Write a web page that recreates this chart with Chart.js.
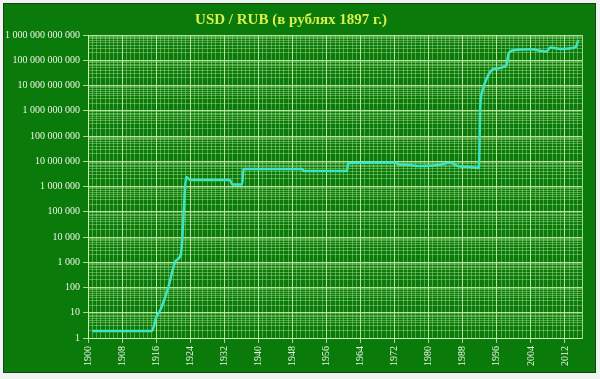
<!DOCTYPE html>
<html>
<head>
<meta charset="utf-8">
<script src="https://cdn.jsdelivr.net/npm/chart.js@4.4.0/dist/chart.umd.min.js"></script>
<style>
    html, body { margin: 0; padding: 0; background: #eef5ee; }
    #panel { position: absolute; left: 3px; top: 3px; width: 593px; height: 370px; box-sizing: border-box; border: 1px solid #1d3b1d; background: #0a7a0a; }
    #wrap { position: absolute; left: 0; top: 0; width: 600px; height: 379px; }
</style>
</head>
<body>
<div id="panel"></div>
<div id="wrap"><canvas id="chart" width="600" height="379"></canvas></div>
<script>
// USD / RUB in 1897 roubles (log scale)
const years = [1901, 1915, 1916, 1917, 1918.8, 1920.7, 1921.8, 1923.1, 1924, 1933.3, 1933.9, 1936.2, 1936.5,
    1950.3, 1950.6, 1960.8, 1961.1, 1972, 1973, 1975, 1978, 1981, 1983, 1985, 1986.8, 1989, 1991.8,
    1992.1, 1992.6, 1993.8, 1995.2, 1998.2, 1998.8, 2000, 2004, 2007.6, 2008.6, 2011, 2014.5, 2015.1]
const rates = [1.9, 1.9, 6.5, 13, 95, 1200, 2000, 2.4e6, 1.8e6, 1.8e6, 1.2e6, 1.2e6, 4.9e6,
    4.9e6, 4.1e6, 4.1e6, 8.5e6, 9e6, 7.5e6, 7.2e6, 6.5e6, 6.8e6, 7.5e6, 9e6, 6.5e6, 6e6, 5.4e6,
    1.3e9, 6e9, 2.2e10, 4.5e10, 6e10, 1.9e11, 2.5e11, 2.7e11, 2.2e11, 3.2e11, 2.8e11, 3.3e11, 6.3e11]

const xTickYears = [1900, 1908, 1916, 1924, 1932, 1940, 1948, 1956, 1964, 1972, 1980, 1988, 1996, 2004, 2012]
const yTickValues = [1, 10, 100, 1e3, 1e4, 1e5, 1e6, 1e7, 1e8, 1e9, 1e10, 1e11, 1e12]

const gridMajor = "rgba(215, 245, 190, 0.75)"
const gridMinor = "rgba(185, 235, 155, 0.4)"
const labelFont = { family: "Liberation Serif", size: 10 }
const labelColor = "#eef6e6"

// minor grid positions: every year, and 1..9 inside each decade
const minorYears = []
for (let y = 1900; y <= 2016; y++) minorYears.push(y)
const minorValues = []
yTickValues.forEach(v => { for (let m = 1; m < 10; m++) if (v * m <= 1e12) minorValues.push(v * m) })

const spaced = v => String(Math.round(v)).replace(/\B(?=(\d{3})+(?!\d))/g, " ")

new Chart(document.getElementById("chart").getContext("2d"), {
    type: "line",
    data: {
        datasets: [{
            data: years.map((x, i) => ({ x: x, y: rates[i] })),
            xAxisID: "x",
            yAxisID: "y",
            borderColor: "#3fe4c4",
            borderWidth: 2.5,
            pointRadius: 0,
            cubicInterpolationMode: "monotone",
            fill: false,
        }],
    },
    options: {
        responsive: false,
        animation: false,
        layout: { padding: { top: 4, right: 18, bottom: 0, left: 0 } },
        plugins: {
            legend: { display: false },
            tooltip: { enabled: false },
            title: {
                display: true,
                text: "USD / RUB (в рублях 1897 г.)",
                color: "#d8f04c",
                font: { family: "Liberation Serif", size: 15, weight: "bold" },
                padding: { top: 7, bottom: 6 },
            },
        },
        scales: {
            xm: {
                type: "linear", position: "bottom", min: 1900, max: 2016,
                afterBuildTicks: s => { s.ticks = minorYears.map(v => ({ value: v })) },
                ticks: { display: false },
                grid: { color: c => (c.tick && c.tick.value === 2016 ? gridMajor : gridMinor), drawTicks: false },
                border: { display: false },
                afterFit: s => { s.height = 0 },
            },
            ym: {
                type: "logarithmic", position: "left", min: 1, max: 1e12,
                afterBuildTicks: s => { s.ticks = minorValues.map(v => ({ value: v })) },
                ticks: { display: false },
                grid: { color: gridMinor, drawTicks: false },
                border: { display: false },
                afterFit: s => { s.width = 0 },
            },
            x: {
                type: "linear", position: "bottom", min: 1900, max: 2016,
                afterBuildTicks: s => { s.ticks = xTickYears.map(v => ({ value: v })) },
                ticks: { color: labelColor, font: labelFont, minRotation: 90, maxRotation: 90, autoSkip: false, padding: 3, callback: v => String(v) },
                grid: { color: gridMajor, tickColor: gridMajor, tickLength: 5 },
                border: { color: gridMajor },
                afterFit: s => { s.height = 41 },
            },
            y: {
                type: "logarithmic", position: "left", min: 1, max: 1e12,
                afterBuildTicks: s => { s.ticks = yTickValues.map(v => ({ value: v })) },
                ticks: { color: labelColor, font: labelFont, autoSkip: false, padding: 3, callback: v => spaced(v) },
                grid: { color: gridMajor, tickColor: gridMajor, tickLength: 5 },
                border: { color: gridMajor },
                afterFit: s => { s.width = 88 },
            },
        },
    },
})
</script>
</body>
</html>
